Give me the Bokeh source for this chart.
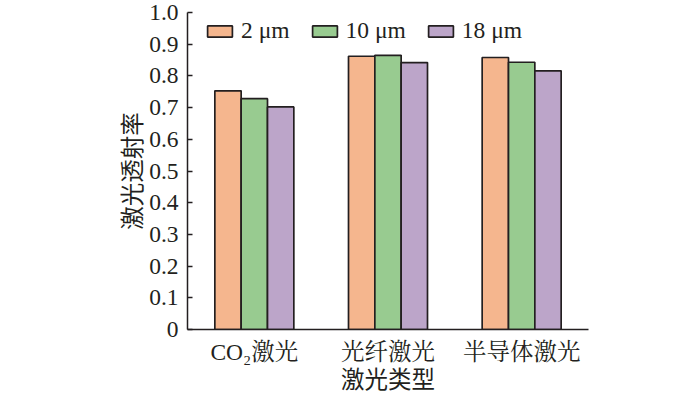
from bokeh.plotting import figure
from bokeh.models import FactorRange, ColumnDataSource, Legend, LegendItem, FixedTicker, Range1d
from bokeh.transform import dodge
from bokeh.embed import file_html
from bokeh.resources import INLINE

categories = ["CO₂激光", "光纤激光", "半导体激光"]
series_names = ["2 μm", "10 μm", "18 μm"]
v_2um = [0.753, 0.862, 0.858]
v_10um = [0.728, 0.865, 0.843]
v_18um = [0.702, 0.842, 0.816]
y_ticks = [0, 0.1, 0.2, 0.3, 0.4, 0.5, 0.6, 0.7, 0.8, 0.9, 1.0]
y_tick_labels = ["0", "0.1", "0.2", "0.3", "0.4", "0.5", "0.6", "0.7", "0.8", "0.9", "1.0"]
colors = ["#F5B68E", "#98CB90", "#BCA5C9"]
x_title = "激光类型"
y_title = "激光透射率"

source = ColumnDataSource(dict(cat=categories, s2=v_2um, s10=v_10um, s18=v_18um))

SERIF = "Liberation Serif, Noto Serif CJK SC, Noto Sans CJK SC"
FS = "23.5px"

p = figure(x_range=FactorRange(*categories, range_padding=0), y_range=Range1d(0, 1.0),
           width=700, height=397, output_backend="svg", toolbar_location=None,
           min_border_left=187, min_border_right=112, min_border_top=12, min_border_bottom=66)
p.outline_line_color = None
p.xgrid.grid_line_color = None
p.ygrid.grid_line_color = None

bw = 0.197
renderers = []
for i, (col, c) in enumerate(zip(["s2", "s10", "s18"], colors)):
    r = p.vbar(x=dodge("cat", (i - 1) * bw, range=p.x_range), top=col, width=bw, source=source,
               fill_color=c, line_color="#231f20", line_width=1.7)
    renderers.append(r)

legend = Legend(items=[LegendItem(label=n, renderers=[r]) for n, r in zip(series_names, renderers)],
                orientation="horizontal", location=(17, 285), margin=0, padding=0,
                glyph_width=31, glyph_height=14, label_standoff=6, spacing=19,
                border_line_color=None, background_fill_alpha=0,
                label_text_font=SERIF, label_text_font_size=FS, label_text_color="#231f20")
p.add_layout(legend, "center")

p.yaxis.ticker = FixedTicker(ticks=y_ticks)
p.yaxis.major_label_overrides = {t: l for t, l in zip(y_ticks, y_tick_labels)}
p.yaxis.major_tick_in = 5
p.yaxis.major_tick_out = 0
p.yaxis.minor_tick_line_color = None
p.yaxis.axis_label = y_title
p.yaxis.axis_label_text_font = "Noto Sans CJK SC"
p.yaxis.axis_label_text_font_size = FS
p.yaxis.axis_label_text_font_style = "normal"
p.yaxis.major_label_standoff = 9
p.yaxis.axis_label_standoff = -2

p.xaxis.major_tick_line_color = None
p.xaxis.major_label_standoff = 3
p.xaxis.axis_label = x_title
p.xaxis.axis_label_text_font = "Noto Sans CJK SC"
p.xaxis.axis_label_text_font_size = FS
p.xaxis.axis_label_text_font_style = "normal"
p.xaxis.axis_label_standoff = -7

for ax in (p.xaxis, p.yaxis):
    ax.axis_line_color = "#231f20"
    ax.axis_line_width = 1.5
    ax.major_tick_line_width = 1.5
    ax.major_label_text_font = SERIF
    ax.major_label_text_font_size = FS
    ax.major_label_text_color = "#231f20"
    ax.axis_label_text_color = "#231f20"
p.yaxis.major_tick_line_color = "#231f20"

open("out.html", "w").write(file_html(p, INLINE))
